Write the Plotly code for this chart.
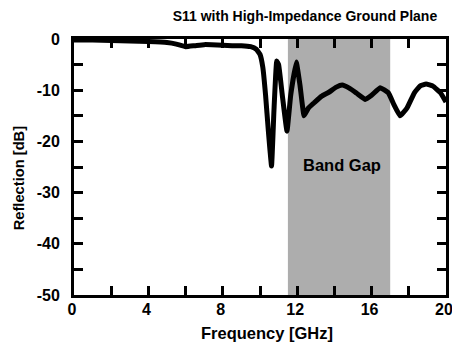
import plotly.graph_objects as go

freq_ghz = [0.0, 1.0, 2.0, 3.0, 4.0, 5.0, 5.5, 6.0, 6.5, 7.0, 8.0, 8.5, 9.0, 9.5, 9.8, 10.0,
            10.15, 10.3, 10.45, 10.62, 10.75, 10.9, 11.0, 11.2, 11.45, 11.65, 11.95, 12.15,
            12.37, 12.6, 12.9, 13.3, 13.7, 14.1, 14.42, 14.8, 15.2, 15.66, 16.0, 16.46,
            16.9, 17.2, 17.53, 17.9, 18.3, 18.6, 18.93, 19.3, 19.7, 20.0]
s11_db = [-0.2, -0.2, -0.3, -0.4, -0.5, -0.7, -1.0, -1.5, -1.3, -1.1, -1.2, -1.3, -1.3, -1.5,
          -2.0, -3.0, -5.5, -11.0, -18.0, -24.8, -14.0, -4.3, -5.0, -11.0, -18.0, -11.0,
          -4.5, -9.0, -15.0, -13.5, -12.5, -11.2, -10.4, -9.4, -9.0, -9.6, -10.6, -11.8,
          -11.0, -9.5, -10.5, -12.8, -15.0, -13.5, -10.5, -9.2, -8.8, -9.2, -10.5, -12.3]

band_gap = [11.5, 17.0]
band_label = "Band Gap"
x_ticks = [0, 4, 8, 12, 16, 20]
x_tick_labels = ["0", "4", "8", "12", "16", "20"]
y_ticks = [0, -10, -20, -30, -40, -50]
y_tick_labels = ["0", "-10", "-20", "-30", "-40", "-50"]

FONT = "Liberation Sans"
TC = "black"
TL = 9

fig = go.Figure()
fig.add_shape(type="rect", xref="x", yref="y", x0=band_gap[0], x1=band_gap[1], y0=-50, y1=0,
              fillcolor="#adadad", line=dict(width=0), layer="below")
fig.add_trace(go.Scatter(x=freq_ghz, y=s11_db, mode="lines",
                         line=dict(color="black", width=5, shape="spline", smoothing=0.3),
                         showlegend=False))
# invisible traces that activate the tick-only overlay axes
fig.add_trace(go.Scatter(x=[0, 20], y=[-50, 0], xaxis="x2", yaxis="y2", mode="markers",
                         marker=dict(opacity=0), showlegend=False, hoverinfo="skip"))
fig.add_trace(go.Scatter(x=[0, 20], y=[-50, 0], xaxis="x3", yaxis="y3", mode="markers",
                         marker=dict(opacity=0), showlegend=False, hoverinfo="skip"))
fig.add_annotation(x=14.39, y=-24.6, text=band_label, showarrow=False,
                   font=dict(family=FONT, size=16.5, color="black", weight="bold"))
fig.add_annotation(xref="paper", yref="paper", x=0.518, y=-0.150, yanchor="middle",
                   xanchor="center", showarrow=False, text="Frequency [GHz]",
                   font=dict(family=FONT, size=16.5, color="black", weight="bold"))
fig.add_annotation(xref="paper", yref="paper", x=-0.149, y=0.458, xanchor="center",
                   yanchor="middle", textangle=-90, showarrow=False, text="Reflection [dB]",
                   font=dict(family=FONT, size=14.7, color="black", weight="bold"))

label_axis = dict(showgrid=False, zeroline=False, showline=True, linecolor="black", linewidth=3,
                  ticks="", automargin=False,
                  tickfont=dict(family=FONT, size=16, color="black", weight="bold"))
tick_axis = dict(showticklabels=False, showgrid=False, zeroline=False, showline=True,
                 linecolor="black", linewidth=3, ticks="inside", ticklen=TL, tickwidth=3,
                 tickcolor=TC)

fig.update_layout(
    width=452, height=342,
    margin=dict(l=66, r=13.5, t=31, b=54.5),
    paper_bgcolor="white", plot_bgcolor="white",
    title=dict(text="S11 with High-Impedance Ground Plane", x=0.657, xanchor="center", y=0.977,
               yanchor="middle",
               font=dict(family=FONT, size=14, color="black", weight="bold")),
    xaxis=dict(range=[0, 20], tickvals=x_ticks, ticktext=x_tick_labels, ticklabelshift=-2,
               ticklabelstandoff=-2, **label_axis),
    yaxis=dict(range=[-50, 0], tickvals=y_ticks, ticktext=y_tick_labels, ticklabelstandoff=8,
               **label_axis),
    xaxis2=dict(range=[0, 20], overlaying="x", side="top", dtick=2, **tick_axis),
    yaxis2=dict(range=[-50, 0], overlaying="y", side="right", dtick=5, **tick_axis),
    xaxis3=dict(range=[0, 20], overlaying="x", side="bottom", dtick=2, **tick_axis),
    yaxis3=dict(range=[-50, 0], overlaying="y", side="left", dtick=5, **tick_axis),
)

fig.write_html("out.html")
